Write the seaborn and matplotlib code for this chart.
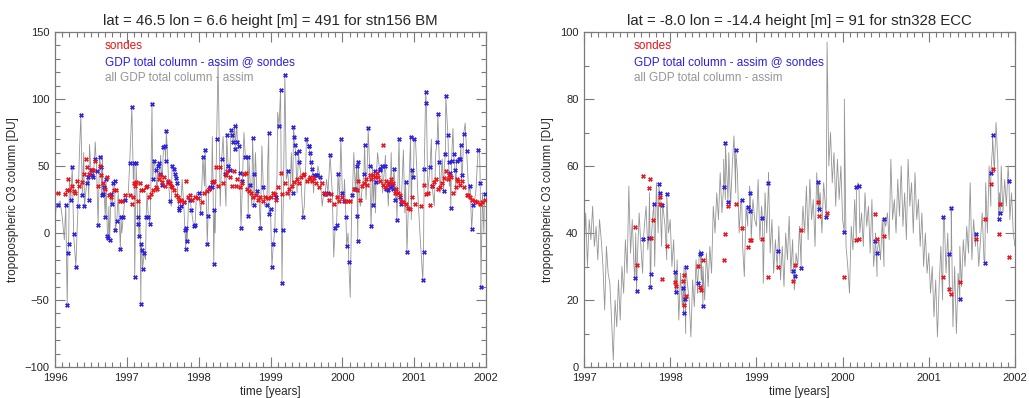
import numpy as np
import pandas as pd
import seaborn as sns
import matplotlib
matplotlib.use("Agg")
import matplotlib.pyplot as plt
from matplotlib.ticker import MultipleLocator, FormatStrFormatter

# --- station 156 (left panel) ---
left_title = "lat = 46.5 lon = 6.6 height [m] = 491 for stn156 BM"

left_blue_t = [
    1996.04, 1996.15, 1996.17, 1996.18, 1996.19, 1996.22, 1996.24, 1996.26, 1996.29, 1996.32,
    1996.36, 1996.38, 1996.41, 1996.44, 1996.46, 1996.47, 1996.50, 1996.52, 1996.53, 1996.55,
    1996.58, 1996.60, 1996.62, 1996.64, 1996.65, 1996.67, 1996.68, 1996.70, 1996.71, 1996.73,
    1996.74, 1996.76, 1996.78, 1996.80, 1996.81, 1996.83, 1996.84, 1996.86, 1996.91, 1996.92,
    1996.95, 1996.97, 1997.04, 1997.07, 1997.10, 1997.11, 1997.13, 1997.15, 1997.16, 1997.17,
    1997.195, 1997.20, 1997.21, 1997.22, 1997.24, 1997.27, 1997.30, 1997.32, 1997.35, 1997.36,
    1997.38, 1997.40, 1997.43, 1997.45, 1997.46, 1997.49, 1997.51, 1997.53, 1997.54, 1997.55,
    1997.58, 1997.60, 1997.63, 1997.65, 1997.67, 1997.69, 1997.70, 1997.72, 1997.73, 1997.75,
    1997.79, 1997.81, 1997.82, 1997.83, 1997.84, 1997.88, 1997.90, 1997.93, 1997.95, 1998.00,
    1998.03, 1998.06, 1998.09, 1998.12, 1998.13, 1998.14, 1998.16, 1998.18, 1998.20, 1998.21,
    1998.22, 1998.25, 1998.32, 1998.36, 1998.39, 1998.41, 1998.43, 1998.45, 1998.47, 1998.48,
    1998.50, 1998.51, 1998.54, 1998.56, 1998.57, 1998.59, 1998.61, 1998.65, 1998.68, 1998.69,
    1998.72, 1998.75, 1998.765, 1998.77, 1998.81, 1998.86, 1998.90, 1998.95, 1998.975, 1998.98,
    1999.00, 1999.02, 1999.04, 1999.06, 1999.07, 1999.12, 1999.14, 1999.16, 1999.17, 1999.20,
    1999.24, 1999.31, 1999.32, 1999.33, 1999.34, 1999.35, 1999.39, 1999.40, 1999.45, 1999.50,
    1999.53, 1999.54, 1999.55, 1999.56, 1999.58, 1999.61, 1999.63, 1999.65, 1999.69, 1999.74,
    1999.76, 1999.80, 1999.83, 1999.90, 1999.92, 1999.94, 1999.98, 2000.00, 2000.02, 2000.05,
    2000.06, 2000.09, 2000.14, 2000.18, 2000.20, 2000.21, 2000.215, 2000.22, 2000.30, 2000.31,
    2000.36, 2000.38, 2000.40, 2000.43, 2000.45, 2000.47, 2000.52, 2000.53, 2000.55, 2000.59,
    2000.61, 2000.63, 2000.65, 2000.67, 2000.69, 2000.70, 2000.72, 2000.74, 2000.76, 2000.79,
    2000.80, 2000.82, 2000.88, 2000.90, 2000.95, 2000.97, 2000.99, 2001.00, 2001.12, 2001.13,
    2001.14, 2001.16, 2001.17, 2001.22, 2001.25, 2001.32, 2001.33, 2001.35, 2001.41, 2001.435,
    2001.44, 2001.47, 2001.48, 2001.50, 2001.51, 2001.52, 2001.55, 2001.57, 2001.59, 2001.62,
    2001.64, 2001.65, 2001.67, 2001.69, 2001.73, 2001.78, 2001.80, 2001.82, 2001.89, 2001.92,
    2001.93, 2001.98,
]
left_blue_v = [
    21, 21, -54, -15, -8, 25, 49, -1, -25, 20,
    88, 28, 20, 37, 42, 25, 47, 43, 42, 55,
    46, 6, 57, 49, 28, 29, 34, 12, 40, -2,
    -4, -5, 29, 22, 37, 39, 2, 9, -12, 12,
    12, 25, 52, 94, 52, -33, 52, 12, 7, -2,
    -53, -8, -13, -27, -15, 12, 12, 7, 96, 40,
    54, 47, 50, 52, 44, 36, 64, 65, 54, 76,
    38, 24, 50, 48, 44, 41, 37, 19, 17, 20,
    23, 2, -12, 4, -6, 25, 17, 5, 6, 30,
    15, 57, 62, -8, 13, 33, 34, 34, 38, -23,
    17, 70, 55, 44, 73, 50, 47, 77, 73, 68,
    80, 63, 68, 65, 45, 4, 39, 57, 57, 13,
    36, 71, 44, 21, 31, 4, 34, 21, 75, 14,
    18, -25, -8, 2, 27, 80, 107, -37, 2, 118,
    46, 30, 79, 72, 66, 60, 61, 53, 12, 70,
    65, 65, 60, 53, 48, 43, 43, 43, 42, 30,
    29, 30, 58, 4, 6, 44, 70, 30, 24, 12,
    -10, -22, 28, 33, 50, 13, -6, 53, 44, 66,
    78, 50, 5, 21, 46, 38, 47, 48, 50, 50,
    33, 32, 37, 34, 36, 33, 48, 25, 10, 70,
    27, 22, 38, -14, 72, 47, 42, 70, -35, -14,
    48, 105, 97, 49, 35, 68, 89, 53, 31, 59,
    102, 73, 53, 45, 19, 54, 59, 47, 54, 55,
    55, 66, 43, 74, 61, 35, 3, 21, 62, 37,
    -40, 29,
]

left_red_t = [
    1996.04, 1996.14, 1996.17, 1996.18, 1996.20, 1996.23, 1996.26, 1996.28, 1996.31, 1996.34,
    1996.38, 1996.40, 1996.43, 1996.45, 1996.48, 1996.51, 1996.53, 1996.56, 1996.60, 1996.62,
    1996.64, 1996.67, 1996.69, 1996.72, 1996.75, 1996.78, 1996.82, 1996.85, 1996.91, 1996.93,
    1996.97, 1997.04, 1997.07, 1997.09, 1997.10, 1997.12, 1997.13, 1997.16, 1997.18, 1997.20,
    1997.22, 1997.26, 1997.28, 1997.31, 1997.34, 1997.37, 1997.40, 1997.42, 1997.45, 1997.46,
    1997.49, 1997.52, 1997.53, 1997.57, 1997.60, 1997.61, 1997.63, 1997.66, 1997.68, 1997.71,
    1997.73, 1997.76, 1997.79, 1997.82, 1997.85, 1997.88, 1997.91, 1997.95, 1997.99, 1998.04,
    1998.08, 1998.11, 1998.14, 1998.18, 1998.22, 1998.24, 1998.27, 1998.30, 1998.34, 1998.38,
    1998.40, 1998.43, 1998.46, 1998.49, 1998.52, 1998.53, 1998.57, 1998.60, 1998.63, 1998.66,
    1998.67, 1998.70, 1998.73, 1998.76, 1998.80, 1998.82, 1998.86, 1998.90, 1998.93, 1998.97,
    1999.01, 1999.04, 1999.06, 1999.08, 1999.11, 1999.14, 1999.16, 1999.20, 1999.23, 1999.26,
    1999.30, 1999.33, 1999.37, 1999.39, 1999.43, 1999.45, 1999.47, 1999.51, 1999.53, 1999.55,
    1999.58, 1999.60, 1999.63, 1999.67, 1999.71, 1999.74, 1999.77, 1999.81, 1999.84, 1999.89,
    1999.93, 1999.96, 2000.00, 2000.04, 2000.08, 2000.11, 2000.16, 2000.20, 2000.22, 2000.24,
    2000.27, 2000.30, 2000.33, 2000.35, 2000.38, 2000.40, 2000.42, 2000.45, 2000.48, 2000.50,
    2000.53, 2000.56, 2000.57, 2000.59, 2000.61, 2000.64, 2000.66, 2000.68, 2000.70, 2000.73,
    2000.75, 2000.78, 2000.80, 2000.82, 2000.85, 2000.88, 2000.91, 2000.94, 2000.97, 2001.01,
    2001.09, 2001.13, 2001.16, 2001.19, 2001.22, 2001.25, 2001.27, 2001.30, 2001.33, 2001.36,
    2001.39, 2001.42, 2001.44, 2001.47, 2001.49, 2001.51, 2001.54, 2001.58, 2001.60, 2001.61,
    2001.64, 2001.67, 2001.70, 2001.73, 2001.75, 2001.78, 2001.81, 2001.85, 2001.88, 2001.92,
    2001.95, 2001.99,
]
left_red_v = [
    30, 29, 32, 40, 32, 35, 31, 30, 39, 35,
    38, 44, 55, 49, 44, 47, 47, 54, 35, 50,
    43, 37, 33, 42, 28, 27, 32, 32, 24, 24,
    28, 28, 22, 27, 37, 35, 38, 24, 37, 32,
    32, 34, 35, 27, 29, 32, 34, 33, 40, 43,
    38, 42, 35, 39, 37, 35, 34, 32, 28, 27,
    24, 25, 23, 39, 27, 28, 25, 27, 26, 23,
    30, 31, 33, 38, 39, 49, 35, 49, 37, 43,
    46, 42, 35, 46, 35, 40, 34, 37, 44, 45,
    33, 31, 30, 27, 28, 25, 27, 24, 27, 26,
    27, 30, 29, 25, 34, 45, 29, 37, 30, 33,
    35, 38, 40, 37, 42, 43, 44, 39, 40, 42,
    39, 41, 37, 34, 37, 30, 29, 25, 29, 22,
    27, 24, 27, 24, 24, 24, 33, 32, 39, 25,
    35, 37, 40, 36, 43, 40, 43, 42, 45, 42,
    39, 66, 36, 34, 39, 36, 37, 40, 37, 30,
    33, 30, 28, 24, 23, 22, 19, 18, 27, 22,
    20, 36, 29, 30, 21, 35, 38, 40, 33, 34,
    37, 41, 46, 40, 43, 42, 30, 34, 40, 39,
    36, 39, 34, 28, 28, 27, 25, 24, 23, 22,
    23, 25,
]

# gray points of the full series that are not at sonde dates
left_gray_t = [
    1996.00, 1996.02, 1996.07, 1996.10, 1996.13, 1996.20, 1996.34, 1996.40, 1996.48, 1996.56,
    1996.61, 1996.66, 1996.75, 1996.88, 1996.93, 1996.99, 1997.02, 1997.09, 1997.18, 1997.26,
    1997.28, 1997.33, 1997.42, 1997.47, 1997.57, 1997.62, 1997.77, 1997.86, 1997.97, 1998.08,
    1998.19, 1998.23, 1998.27, 1998.30, 1998.34, 1998.38, 1998.44, 1998.53, 1998.58, 1998.63,
    1998.70, 1998.74, 1998.79, 1998.84, 1998.88, 1998.92, 1998.96, 1999.09, 1999.10, 1999.18,
    1999.22, 1999.27, 1999.29, 1999.37, 1999.42, 1999.47, 1999.49, 1999.60, 1999.66, 1999.72,
    1999.78, 1999.86, 1999.88, 1999.96, 2000.03, 2000.08, 2000.11, 2000.13, 2000.16, 2000.25,
    2000.28, 2000.33, 2000.35, 2000.42, 2000.46, 2000.49, 2000.56, 2000.60, 2000.64, 2000.68,
    2000.75, 2000.81, 2000.85, 2000.87, 2000.93, 2000.96, 2001.02, 2001.05, 2001.08, 2001.19,
    2001.24, 2001.28, 2001.30, 2001.36, 2001.39, 2001.42, 2001.49, 2001.54, 2001.58, 2001.66,
    2001.71, 2001.76, 2001.83, 2001.86, 2001.91, 2001.95, 2001.97, 2002.00,
]
left_gray_v = [
    10, 22, 24, 12, -5, 40, 60, 60, 66, 68,
    30, 58, 20, 30, 0, 26, 30, 40, 30, -20,
    30, 20, 30, 58, 55, 20, 40, 25, 30, 35,
    72, 0, 128, 20, 72, 20, 55, 82, 30, 75,
    55, 20, 60, 25, 65, 20, 50, 40, 90, 30,
    40, 25, 60, 30, 45, 20, 50, 30, 50, 20,
    40, 30, -18, 25, 40, 0, -48, 20, 60, 20,
    35, 25, 55, 50, 15, 60, 30, 58, 20, 60,
    35, 25, 62, 15, 40, 10, 68, 30, 0, 30,
    70, 20, 60, 30, 55, 50, 35, 78, 30, 40,
    82, 30, 20, 32, 62, 30, 0, 28,
]

# --- station 328 (right panel) ---
right_title = "lat = -8.0 lon = -14.4 height [m] = 91 for stn328 ECC"

right_blue_t = [
    1997.59, 1997.61, 1997.69, 1997.75, 1997.77, 1997.775, 1997.81, 1997.87, 1997.88, 1997.91,
    1997.96, 1998.06, 1998.07, 1998.15, 1998.155, 1998.17, 1998.18, 1998.32, 1998.35, 1998.36,
    1998.38, 1998.62, 1998.64, 1998.67, 1998.76, 1998.83, 1998.90, 1998.92, 1998.93, 1999.07,
    1999.14, 1999.25, 1999.43, 1999.45, 1999.52, 1999.72, 1999.73, 1999.81, 2000.02, 2000.16,
    2000.19, 2000.38, 2000.40, 2000.48, 2001.17, 2001.24, 2001.26, 2001.36, 2001.55, 2001.65,
    2001.72, 2001.74, 2001.81, 2001.83, 2001.93,
]
right_blue_v = [
    26.5, 22.8, 38.2, 38.5, 24.0, 27.7, 48.6, 54.5, 52.0, 48.4,
    51.5, 28.5, 22.5, 23.7, 16.0, 20.2, 29.8, 25.2, 33.8, 34.0,
    18.3, 53.7, 67.0, 49.2, 64.7, 49.8, 47.9, 46.7, 52.0, 44.4,
    54.8, 34.5, 28.8, 27.1, 29.5, 55.1, 47.2, 44.9, 40.2, 53.7,
    53.9, 37.5, 34.1, 44.3, 44.9, 33.8, 47.4, 20.3, 39.6, 31.1,
    58.0, 69.3, 44.2, 46.0, 55.6,
]
right_red_t = [
    1997.59, 1997.61, 1997.69, 1997.75, 1997.77, 1997.78, 1997.80, 1997.88, 1997.885, 1997.91,
    1997.96, 1998.06, 1998.07, 1998.15, 1998.16, 1998.165, 1998.18, 1998.32, 1998.35, 1998.36,
    1998.38, 1998.62, 1998.64, 1998.67, 1998.76, 1998.83, 1998.90, 1998.93, 1998.94, 1999.06,
    1999.14, 1999.25, 1999.43, 1999.45, 1999.52, 1999.72, 1999.73, 1999.82, 2000.02, 2000.16,
    2000.19, 2000.38, 2000.40, 2000.48, 2001.17, 2001.24, 2001.26, 2001.36, 2001.55, 2001.65,
    2001.72, 2001.74, 2001.81, 2001.83, 2001.93,
]
right_red_v = [
    41.7, 30.5, 57.0, 53.5, 56.0, 38.6, 43.8, 50.7, 48.7, 26.3,
    36.2, 25.4, 24.2, 25.7, 27.5, 18.6, 21.3, 30.2, 24.0, 22.9,
    31.8, 32.0, 39.6, 48.2, 48.7, 41.6, 35.8, 38.0, 38.0, 38.3,
    26.9, 29.8, 25.6, 30.3, 40.8, 49.4, 45.2, 46.1, 26.9, 37.8,
    38.3, 45.7, 38.3, 39.2, 27.0, 23.2, 21.9, 25.3, 38.1, 44.3,
    54.7, 59.0, 39.6, 48.6, 32.9,
]

# full GDP series, roughly one value per week from 1997.0
right_gray_v = [
    # 1997
    34, 46, 30, 44, 38, 48, 36, 42, 32, 44, 38, 30, 17, 36, 28, 25, 14, 2, 20, 12,
    26, 14, 30, 22, 38, 28, 54, 34, 44, 30, 40, 33, 46, 36, 28, 42, 48, 35, 52, 38,
    46, 30, 55, 40, 50, 36, 47, 42, 32, 40,
    # 1998
    44, 30, 38, 22, 32, 14, 28, 18, 30, 10, 25, 20, 9, 26, 18, 32, 22, 35, 26, 30,
    20, 34, 24, 36, 28, 48, 40, 52, 44, 58, 46, 62, 50, 56, 64, 48, 60, 69, 52, 58,
    40, 50, 36, 27, 48, 42, 54, 38, 50, 44,
    # 1999
    42, 56, 38, 48, 25, 52, 40, 58, 34, 44, 28, 38, 30, 42, 26, 36, 24, 40, 32, 45,
    28, 38, 23, 34, 30, 42, 36, 48, 40, 54, 38, 56, 44, 50, 36, 58, 46, 52, 40, 55,
    48, 97, 60, 70, 55, 64, 48, 62, 50, 60,
    # 2000
    44, 80, 36, 30, 22, 42, 35, 50, 38, 55, 40, 46, 36, 52, 42, 48, 34, 50, 30, 40,
    27, 38, 32, 44, 30, 42, 46, 38, 62, 44, 50, 40, 56, 45, 60, 42, 52, 38, 62, 48,
    55, 40, 58, 44, 50, 36, 46, 30, 40, 28,
    # 2001
    34, 22, 30, 15, 26, 9, 24, 36, 20, 44, 28, 40, 22, 35, 12, 30, 10, 28, 36, 24,
    38, 30, 42, 34, 55, 32, 44, 36, 40, 30, 38, 46, 32, 55, 40, 60, 48, 66, 58, 73,
    62, 52, 60, 46, 56, 48, 60, 44, 52, 40,
    36,
]
right_gray_t = list(np.linspace(1997.0, 2002.0, len(right_gray_v)))

legend_labels = ["sondes", "GDP total column - assim @ sondes", "all GDP total column - assim"]

RED = "#e8141c"
BLUE = "#2a1fe0"
GRAY = "#959595"
AXC = "#7a7a7a"

sns.set_style("ticks")
plt.rcParams["font.family"] = ["Liberation Sans", "DejaVu Sans"]

fig = plt.figure(figsize=(10.29, 3.98), dpi=100)
ax1 = fig.add_axes([55 / 1029, 1 - 367 / 398, 431 / 1029, 335 / 398])
ax2 = fig.add_axes([584 / 1029, 1 - 367 / 398, 431 / 1029, 335 / 398])


def draw_panel(ax, title, gray_t, gray_v, blue_t, blue_v, red_t, red_v,
               xlim, ylim, ymajor, yminor, xminor):
    line_df = pd.DataFrame({"t": list(gray_t) + list(blue_t),
                            "v": list(gray_v) + list(blue_v)})
    sns.lineplot(data=line_df, x="t", y="v", ax=ax, color=GRAY, lw=0.6,
                 estimator=None, sort=True, zorder=1)
    sns.scatterplot(x=blue_t, y=blue_v, ax=ax, color=BLUE, marker="X", s=9,
                    linewidth=0.3, edgecolor=BLUE, zorder=3)
    sns.scatterplot(x=red_t, y=red_v, ax=ax, color=RED, marker="X", s=9,
                    linewidth=0.3, edgecolor=RED, zorder=4)
    ax.set_xlim(*xlim)
    ax.set_ylim(*ylim)
    ax.xaxis.set_major_locator(MultipleLocator(1))
    ax.xaxis.set_minor_locator(MultipleLocator(xminor))
    ax.xaxis.set_major_formatter(FormatStrFormatter("%d"))
    ax.yaxis.set_major_locator(MultipleLocator(ymajor))
    ax.yaxis.set_minor_locator(MultipleLocator(yminor))
    ax.tick_params(which="both", direction="in", top=True, right=True,
                   color=AXC, labelsize=8, width=0.8, pad=4)
    ax.tick_params(which="major", length=7)
    ax.tick_params(which="minor", length=3.5)
    for sp in ax.spines.values():
        sp.set_color(AXC)
        sp.set_linewidth(0.9)
    ax.set_title(title, fontsize=10.8, pad=5)
    ax.set_xlabel("time [years]", fontsize=8.5, labelpad=2.5)
    ax.set_ylabel("tropopospheric O3 column [DU]", fontsize=8.5, labelpad=4)
    for lab, col, yy in zip(legend_labels, [RED, BLUE, GRAY], [0.958, 0.910, 0.863]):
        ax.text(0.116, yy, lab, color=col, fontsize=8.5, transform=ax.transAxes,
                ha="left", va="center")


draw_panel(ax1, left_title, left_gray_t, left_gray_v, left_blue_t, left_blue_v,
           left_red_t, left_red_v, (1996, 2002), (-100, 150), 50, 10, 0.1)
draw_panel(ax2, right_title, right_gray_t, right_gray_v, right_blue_t, right_blue_v,
           right_red_t, right_red_v, (1997, 2002), (0, 100), 20, 10, 1 / 12)

fig.savefig("out.png", dpi=100)
